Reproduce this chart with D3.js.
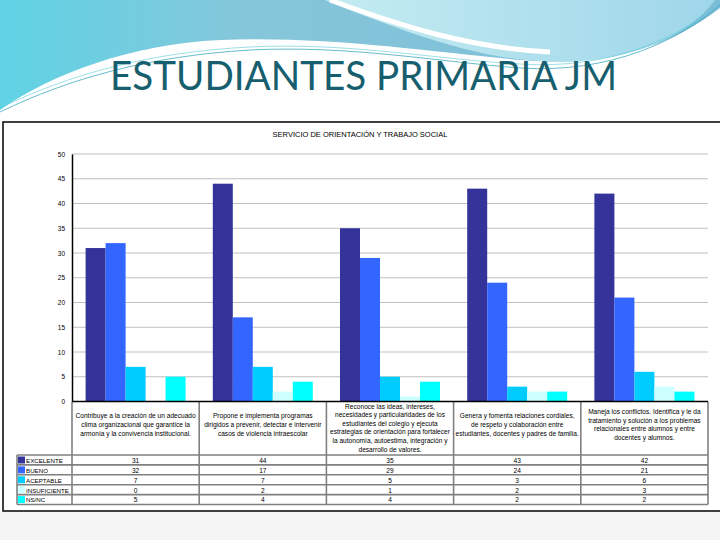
<!DOCTYPE html>
<html>
<head>
<meta charset="utf-8">
<script src="https://cdn.jsdelivr.net/npm/d3@7"></script>
<style>
  body { margin: 0; background: #fff; }
  svg { display: block; }
  text { font-family: "Liberation Sans", Arial, sans-serif; }
</style>
</head>
<body>
<script>
// datos del grafico
var categoryLines = [
  ["Contribuye a la creación de un adecuado", "clima organizacional que garantice la", "armonía y la convivencia institucional."],
  ["Propone e implementa programas", "dirigidos a prevenir, detectar e intervenir", "casos de violencia intraescolar"],
  ["Reconoce las ideas, intereses,", "necesidades y particularidades de los", "estudiantes del colegio y ejecuta", "estrategias de orientación para fortalecer", "la autonomía, autoestima, integración y", "desarrollo de valores."],
  ["Genera y fomenta relaciones cordiales,", "de respeto y colaboración entre", "estudiantes, docentes y padres de familia."],
  ["Maneja los conflictos. Identifica y le da", "tratamiento y solución a los problemas", "relacionales entre alumnos y entre", "docentes y alumnos."]
];
var categories = ["c1", "c2", "c3", "c4", "c5"];
var series = ["EXCELENTE", "BUENO", "ACEPTABLE", "INSUFICIENTE", "NS/NC"];
var excelente    = [31, 44, 35, 43, 42];
var bueno        = [32, 17, 29, 24, 21];
var aceptable    = [7, 7, 5, 3, 6];
var insuficiente = [0, 2, 1, 2, 3];
var nsnc         = [5, 4, 4, 2, 2];
var yTicks = [0, 5, 10, 15, 20, 25, 30, 35, 40, 45, 50];
var colors = ["#333399", "#3366FF", "#00CCFF", "#CCFFFF", "#00FFFF"];

var values = [excelente, bueno, aceptable, insuficiente, nsnc];

var svg = d3.select("body").append("svg")
            .attr("width", 720)
            .attr("height", 540);

var defs = svg.append("defs");
var g1 = defs.append("linearGradient").attr("id", "wave1")
             .attr("x1", "0").attr("y1", "0").attr("x2", "1").attr("y2", "0");
g1.append("stop").attr("offset", "0").attr("stop-color", "#5FD3E4");
g1.append("stop").attr("offset", "0.35").attr("stop-color", "#86C6DA");
g1.append("stop").attr("offset", "1").attr("stop-color", "#7DBDD8");
var g2 = defs.append("linearGradient").attr("id", "wave2")
             .attr("x1", "0").attr("y1", "0").attr("x2", "1").attr("y2", "0");
g2.append("stop").attr("offset", "0").attr("stop-color", "#C4ECF1");
g2.append("stop").attr("offset", "1").attr("stop-color", "#9FD6EA");

// decoracion superior de la diapositiva
svg.append("path")
   .attr("d", "M0,0 L720,0 L720,8 C660,55 590,66 520,60 C430,52 330,36 220,40 C130,44 50,75 0,110 Z")
   .attr("fill", "url(#wave1)");
svg.append("path")
   .attr("d", "M0,112 C60,75 140,52 240,46 C340,40 430,58 520,66 C600,72 680,45 720,10 L720,30 C680,62 600,80 520,74 C430,66 340,50 240,54 C140,58 60,85 0,118 Z")
   .attr("fill", "#ffffff");
svg.append("path")
   .attr("d", "M325,0 L715,0 C690,35 630,62 560,62 C480,62 400,30 325,0 Z")
   .attr("fill", "url(#wave2)");
svg.append("path")
   .attr("d", "M330,0 C400,26 470,48 550,52")
   .attr("fill", "none").attr("stroke", "#ffffff").attr("stroke-width", 5);
svg.append("path")
   .attr("d", "M0,112 C70,78 150,56 250,50 C350,45 440,62 520,68 C610,74 680,40 720,5")
   .attr("fill", "none").attr("stroke", "#3FA9C0").attr("stroke-width", 0.8);
svg.append("path")
   .attr("d", "M0,108 C70,74 150,52 250,47 C350,42 440,60 520,64 C610,70 680,38 720,2")
   .attr("fill", "none").attr("stroke", "#5CC9D9").attr("stroke-width", 0.6);

svg.append("text")
   .attr("x", 110).attr("y", 90)
   .attr("textLength", 507).attr("lengthAdjust", "spacingAndGlyphs")
   .style("font-family", "Lato, 'Open Sans', sans-serif")
   .style("font-size", "41px")
   .attr("fill", "#175E6E")
   .text("ESTUDIANTES PRIMARIA JM");

// zona inferior
svg.append("rect").attr("x", 0).attr("y", 512).attr("width", 720).attr("height", 28)
   .attr("fill", "#F5F5F5");

// caja del grafico
svg.append("rect")
   .attr("x", 3).attr("y", 122).attr("width", 718).attr("height", 389)
   .attr("fill", "#fff").attr("stroke", "#000").attr("stroke-width", 1.5);

svg.append("text")
   .attr("x", 360).attr("y", 137)
   .attr("text-anchor", "middle")
   .style("font-size", "7.5px")
   .text("SERVICIO DE ORIENTACIÓN Y TRABAJO SOCIAL");

var y = d3.scaleLinear().domain([0, 50]).range([401.5, 154]);
var x0 = d3.scaleBand().domain(categories).range([72, 708]);
var x1 = d3.scaleBand().domain(series).range([13.6, x0.bandwidth() - 13.6]);

// rejilla
svg.append("g")
   .selectAll("line")
   .data(yTicks.slice(1))
   .enter().append("line")
   .attr("x1", 72).attr("x2", 708)
   .attr("y1", function (d) { return y(d); })
   .attr("y2", function (d) { return y(d); })
   .attr("stroke", "#C0C0C0").attr("stroke-width", 1);

var yAxis = svg.append("g")
   .attr("transform", "translate(72,0)")
   .call(d3.axisLeft(y).tickValues(yTicks).tickSize(0).tickPadding(7));
yAxis.select(".domain").attr("stroke", "#000").attr("stroke-width", 1.5);
yAxis.selectAll("text").style("font-size", "6.5px").style("font-family", "'Liberation Sans', sans-serif");

// barras
var groups = svg.append("g")
   .selectAll("g")
   .data(categories)
   .enter().append("g")
   .attr("transform", function (d) { return "translate(" + x0(d) + ",0)"; });

groups.selectAll("rect")
   .data(function (d, i) {
       return series.map(function (s, j) { return { s: s, v: values[j][i], c: colors[j] }; });
   })
   .enter().append("rect")
   .attr("x", function (d) { return x1(d.s); })
   .attr("width", x1.bandwidth())
   .attr("y", function (d) { return y(d.v); })
   .attr("height", function (d) { return y(0) - y(d.v); })
   .attr("fill", function (d) { return d.c; });

// tabla de datos
var rowTop = 455, rowH = 9.9, tableLeft = 17;
var grid = svg.append("g").attr("stroke", "#808080").attr("stroke-width", 1.6);
for (var r = 0; r <= series.length; r++) {
    grid.append("line")
        .attr("x1", tableLeft).attr("x2", 708)
        .attr("y1", rowTop + r * rowH).attr("y2", rowTop + r * rowH);
}
grid.append("line")
    .attr("x1", tableLeft).attr("x2", tableLeft)
    .attr("y1", rowTop).attr("y2", rowTop + series.length * rowH);
categories.concat(["end"]).forEach(function (c, i) {
    var xx = i < categories.length ? x0(c) : x0.range()[1];
    grid.append("line")
        .attr("x1", xx).attr("x2", xx)
        .attr("y1", 402).attr("y2", rowTop + series.length * rowH);
});

// eje x
svg.append("line")
   .attr("x1", 72).attr("x2", 708)
   .attr("y1", y(0)).attr("y2", y(0))
   .attr("stroke", "#000").attr("stroke-width", 1.5);

// etiquetas de categoria
categories.forEach(function (c, i) {
    var lines = categoryLines[i];
    var lh = 8.6;
    var start = Math.max(408.5, 427 - (lines.length - 1) * lh / 2);
    svg.append("g").selectAll("text")
       .data(lines)
       .enter().append("text")
       .attr("x", x0(c) + x0.bandwidth() / 2)
       .attr("y", function (d, k) { return start + k * lh; })
       .attr("text-anchor", "middle")
       .style("font-size", "6.6px")
       .text(function (d) { return d; });
});

// leyenda y valores
series.forEach(function (s, j) {
    var cy = rowTop + j * rowH;
    svg.append("rect")
       .attr("x", 18).attr("y", cy + 1.5).attr("width", 7).attr("height", 7)
       .attr("fill", colors[j]);
    svg.append("text")
       .attr("x", 26).attr("y", cy + 7.8)
       .style("font-size", "6.2px")
       .text(s);
    svg.append("g").selectAll("text")
       .data(values[j])
       .enter().append("text")
       .attr("x", function (d, i) { return x0(categories[i]) + x0.bandwidth() / 2; })
       .attr("y", cy + 7.8)
       .attr("text-anchor", "middle")
       .style("font-size", "6.6px")
       .text(function (d) { return d; });
});
</script>
</body>
</html>
